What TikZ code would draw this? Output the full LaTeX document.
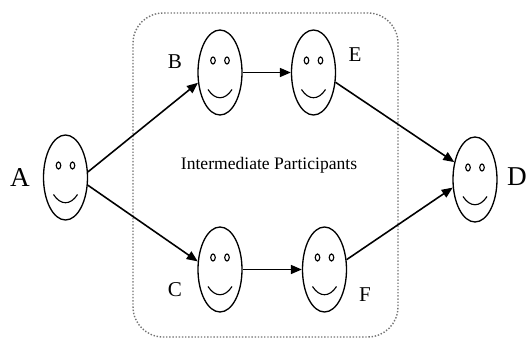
\documentclass[tikz,border=0pt]{standalone}
\usepackage{fontspec}
\setmainfont{Liberation Serif}
\usetikzlibrary{positioning,arrows.meta,shapes.geometric}

\begin{document}
\begin{tikzpicture}[x=0.02cm, y=-0.02cm, face/.style = {draw, line width=0.75pt, shape=ellipse, minimum width=0.88cm, minimum height=1.7cm, inner sep=0pt}, big/.style = {font=\fontsize{15.5}{18}\selectfont}, small/.style = {font=\fontsize{12}{14}\selectfont}, link/.style = {line width=0.9pt, -{Triangle[length=2.2mm,width=1.8mm]}}]
\useasboundingbox (0,0) rectangle (528,340);
\node (group) [draw, black!55, line width=0.8pt, densely dotted, rounded corners=0.6cm, minimum width=5.3cm, minimum height=6.48cm] at (265.5,175) {};
\node (title) at (269,165) {\fontsize{10}{12}\selectfont Intermediate Participants};

\node (A) [face] at (65.5,177.5) {};
\node (B) [face] at (220,72.5) {};
\node (E) [face] at (313.5,72.5) {};
\node (C) [face] at (220,269.5) {};
\node (F) [face] at (324.5,269.5) {};
\node (D) [face] at (475,179.5) {};

\foreach \f in {A,B,C,D,E,F}{
  \begin{scope}[shift={(\f.center)}, line width=0.65pt]
    \draw (-7,-12) ellipse [x radius=0.045cm, y radius=0.07cm];
    \draw (7,-12) ellipse [x radius=0.045cm, y radius=0.07cm];
    \draw (-12,17) .. controls (-5,28) and (5,28) .. (12,17);
  \end{scope}
}

\node (labA) [big] at (20,178) {A};
\node (labD) [big] at (517,177) {D};
\node (labB) [small] at (175,62) {B};
\node (labC) [small] at (175,290) {C};
\node (labE) [small] at (355,55) {E};
\node (labF) [small] at (365,295) {F};

\draw[link] (A.14) -- (B.205);
\draw[link] (A.-19) -- (C.160);
\draw[link] (B.east) -- (E.west);
\draw[link] (C.east) -- (F.west);
\draw[link] (E.-24) -- (D.140);
\draw[link] (F.24) -- (D.200);
\end{tikzpicture}
\end{document}
